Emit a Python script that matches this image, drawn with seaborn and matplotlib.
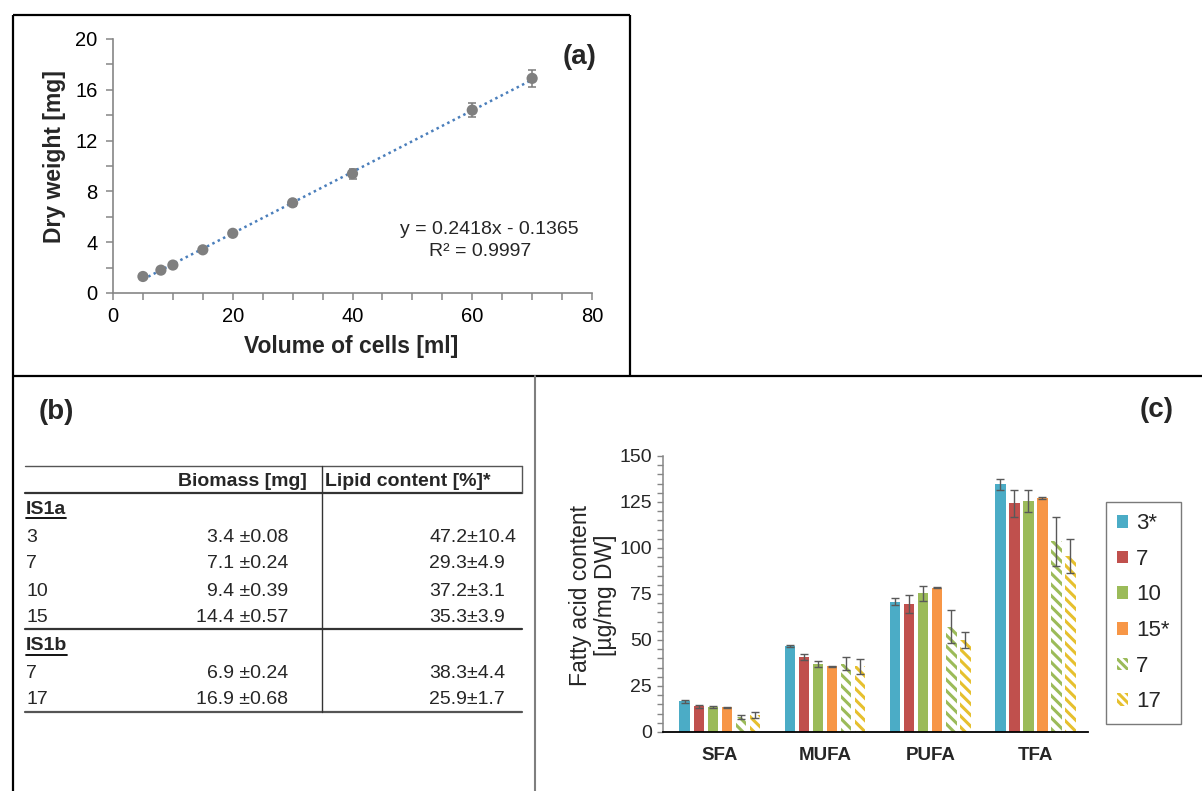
import numpy as np
import pandas as pd
import matplotlib
matplotlib.use("Agg")
import matplotlib.pyplot as plt
from matplotlib.patches import Patch
from matplotlib.ticker import MultipleLocator
import seaborn as sns

# ---------------- data: panel (a) ----------------
volume_ml = [5, 8, 10, 15, 20, 30, 40, 60, 70]
dry_weight_mg = [1.3, 1.8, 2.2, 3.4, 4.7, 7.1, 9.4, 14.4, 16.9]
dry_weight_sd = [0.08, 0.10, 0.10, 0.12, 0.15, 0.24, 0.39, 0.57, 0.68]
fit_slope = 0.2418
fit_intercept = -0.1365
fit_r2 = 0.9997

# ---------------- data: panel (b) table ----------------
table_header = ["Biomass [mg]", "Lipid content [%]*"]
is1a_labels = ["3", "7", "10", "15"]
is1a_biomass = ["3.4 \u00b10.08", "7.1 \u00b10.24", "9.4 \u00b10.39", "14.4 \u00b10.57"]
is1a_lipid = ["47.2\u00b110.4", "29.3\u00b14.9", "37.2\u00b13.1", "35.3\u00b13.9"]
is1b_labels = ["7", "17"]
is1b_biomass = ["6.9 \u00b10.24", "16.9 \u00b10.68"]
is1b_lipid = ["38.3\u00b14.4", "25.9\u00b11.7"]

# ---------------- data: panel (c) ----------------
fa_categories = ["SFA", "MUFA", "PUFA", "TFA"]
strain_keys = ["IS1a-3", "IS1a-7", "IS1a-10", "IS1a-15", "IS1b-7", "IS1b-17"]
strain_labels = ["3*", "7", "10", "15*", "7", "17"]
fa_3 = [16.6, 46.8, 70.8, 134.6]
fa_3_sd = [0.6, 0.5, 2.0, 3.0]
fa_7 = [13.9, 40.7, 69.4, 124.2]
fa_7_sd = [0.8, 1.6, 4.8, 7.4]
fa_10 = [13.6, 36.9, 75.4, 125.6]
fa_10_sd = [0.8, 1.8, 4.0, 6.0]
fa_15 = [13.4, 35.6, 78.4, 127.2]
fa_15_sd = [0.2, 0.3, 0.3, 0.3]
fa_b7 = [8.1, 37.2, 57.3, 103.7]
fa_b7_sd = [1.0, 3.6, 8.9, 13.3]
fa_b17 = [9.2, 35.6, 50.1, 95.8]
fa_b17_sd = [1.8, 4.0, 4.2, 9.3]

strain_colors = ["#4BACC6", "#C0504D", "#9BBB59", "#F79646", "#9BBB59", "#E6C02E"]
hatched = [False, False, False, False, True, True]

# ---------------- style ----------------
sns.set_style("white")
plt.rcParams["font.family"] = ["Liberation Sans", "DejaVu Sans"]
plt.rcParams["hatch.linewidth"] = 2.2

W, H = 1202, 791
fig = plt.figure(figsize=(W / 100, H / 100), dpi=100)
fig.patch.set_facecolor("white")

# background axes in pixel coordinates for frames and table
ax_bg = fig.add_axes([0, 0, 1, 1], zorder=0)
ax_bg.set_xlim(0, W)
ax_bg.set_ylim(H, 0)
ax_bg.axis("off")
ax_bg.patch.set_alpha(0)

# frame lines
kw = dict(color="black", lw=1.6, solid_capstyle="butt")
ax_bg.plot([13, 630], [15, 15], **kw)
ax_bg.plot([13, 13], [15, H], **kw)
ax_bg.plot([630, 630], [15, 375.5], **kw)
ax_bg.plot([13, W], [375.5, 375.5], **kw)
ax_bg.plot([535, 535], [375.5, H], color="#7f7f7f", lw=1.5)

# ---------------- panel (a) ----------------
ax_a = fig.add_axes([113 / W, 1 - 293 / H, 479 / W, 254 / H], zorder=2)
ax_a.patch.set_alpha(0)
fit_x = np.array([min(volume_ml), max(volume_ml)], dtype=float)
fit_y = fit_slope * fit_x + fit_intercept
sns.lineplot(x=fit_x, y=fit_y, ax=ax_a, color="#4A7EBB", lw=1.8,
             linestyle=(0, (1, 1.4)), zorder=2)
ax_a.errorbar(volume_ml, dry_weight_mg, yerr=dry_weight_sd, fmt="none",
              ecolor="#7a7a7a", elinewidth=1.1, capsize=3, capthick=1.1, zorder=3)
sns.scatterplot(x=volume_ml, y=dry_weight_mg, ax=ax_a, color="#7F7F7F",
                s=65, edgecolor="none", zorder=4)
ax_a.set_xlim(0, 80)
ax_a.set_ylim(0, 20)
ax_a.xaxis.set_major_locator(MultipleLocator(20))
ax_a.xaxis.set_minor_locator(MultipleLocator(5))
ax_a.yaxis.set_major_locator(MultipleLocator(4))
ax_a.yaxis.set_minor_locator(MultipleLocator(2))
for s in ["top", "right"]:
    ax_a.spines[s].set_visible(False)
for s in ["left", "bottom"]:
    ax_a.spines[s].set_color("#868686")
    ax_a.spines[s].set_linewidth(1.2)
ax_a.tick_params(which="both", direction="out", length=5, width=1.1,
                 color="#868686", labelsize=14.5, labelcolor="black")
ax_a.tick_params(axis="y", which="both", left=True, pad=6)
ax_a.tick_params(axis="x", which="both", bottom=True, pad=5)
ax_a.set_xlabel("Volume of cells [ml]", fontsize=16.5, fontweight="bold")
ax_a.set_ylabel("Dry weight [mg]", fontsize=16.5, fontweight="bold")
ax_a.xaxis.label.set_verticalalignment("center")
ax_a.yaxis.label.set_verticalalignment("center")
ax_a.xaxis.set_label_coords((351 - 113) / 479, (293 - 347) / 254)
ax_a.yaxis.set_label_coords((55 - 113) / 479, (293 - 157) / 254)

fig.text(489 / W, 1 - 230 / H, f"y = {fit_slope}x - {abs(fit_intercept)}",
         ha="center", va="center", fontsize=14)
fig.text(480 / W, 1 - 252 / H, f"R\u00b2 = {fit_r2}", ha="center", va="center", fontsize=14)
fig.text(580 / W, 1 - 57 / H, "(a)", ha="center", va="center", fontsize=20, fontweight="bold")

# ---------------- panel (b) table ----------------
fig.text(56 / W, 1 - 412 / H, "(b)", ha="center", va="center", fontsize=20, fontweight="bold")
tfs = 14
ax_bg.plot([25, 522], [466, 466], color="#555555", lw=1.0)
ax_bg.plot([25, 522], [493, 493], color="#333333", lw=1.6)
ax_bg.plot([25, 522], [629, 629], color="#333333", lw=1.6)
ax_bg.plot([25, 522], [712, 712], color="#555555", lw=1.6)
ax_bg.plot([322, 322], [466, 712], color="#333333", lw=1.0)
ax_bg.plot([522, 522], [466, 493], color="#555555", lw=1.0)
ax_bg.text(307, 482, table_header[0], ha="right", va="center", fontsize=tfs, fontweight="bold")
ax_bg.text(325, 482, table_header[1], ha="left", va="center", fontsize=tfs, fontweight="bold")

group_texts = []
t = ax_bg.text(26, 509, "IS1a", ha="left", va="center", fontsize=tfs, fontweight="bold")
group_texts.append((t, 509))
for lab, bm, lp, yy in zip(is1a_labels, is1a_biomass, is1a_lipid, [537, 564, 591, 618]):
    ax_bg.text(26, yy, lab, ha="left", va="center", fontsize=tfs)
    ax_bg.text(288, yy, bm, ha="right", va="center", fontsize=tfs)
    ax_bg.text(429, yy, lp, ha="left", va="center", fontsize=tfs)
t = ax_bg.text(26, 646, "IS1b", ha="left", va="center", fontsize=tfs, fontweight="bold")
group_texts.append((t, 646))
for lab, bm, lp, yy in zip(is1b_labels, is1b_biomass, is1b_lipid, [673, 700]):
    ax_bg.text(26, yy, lab, ha="left", va="center", fontsize=tfs)
    ax_bg.text(288, yy, bm, ha="right", va="center", fontsize=tfs)
    ax_bg.text(429, yy, lp, ha="left", va="center", fontsize=tfs)

fig.canvas.draw()
for t, yy in group_texts:
    bb = t.get_window_extent()
    ax_bg.plot([bb.x0, bb.x1], [yy + 9, yy + 9], color="black", lw=1.3)

# ---------------- panel (c) ----------------
values = [fa_3, fa_7, fa_10, fa_15, fa_b7, fa_b17]
sds = [fa_3_sd, fa_7_sd, fa_10_sd, fa_15_sd, fa_b7_sd, fa_b17_sd]
rows = []
for key, vals, sd in zip(strain_keys, values, sds):
    for cat, v, e in zip(fa_categories, vals, sd):
        rows.append({"category": cat, "strain": key, "value": v, "sd": e})
df = pd.DataFrame(rows)

ax_c = fig.add_axes([663 / W, 1 - 732 / H, 425 / W, 276 / H], zorder=2)
ax_c.patch.set_alpha(0)
sns.barplot(data=df, x="category", y="value", hue="strain", order=fa_categories,
            hue_order=strain_keys, palette=dict(zip(strain_keys, strain_colors)),
            errorbar=None, width=0.8, gap=0.25, saturation=1, linewidth=0,
            legend=False, ax=ax_c)

sd_lookup = {k: dict(zip(fa_categories, s)) for k, s in zip(strain_keys, sds)}
bar_containers = list(ax_c.containers)
for i, cont in enumerate(bar_containers):
    key = strain_keys[i]
    col = strain_colors[i]
    xs, ys, es = [], [], []
    for p in cont.patches:
        if hatched[i]:
            p.set_facecolor("white")
            p.set_edgecolor(col)
            p.set_hatch("\\" * 3)
            p.set_linewidth(0)
        cx = p.get_x() + p.get_width() / 2
        ci = int(round(cx))
        xs.append(cx)
        ys.append(p.get_height())
        es.append(sd_lookup[key][fa_categories[ci]])
    ax_c.errorbar(xs, ys, yerr=es, fmt="none", ecolor="#595959", elinewidth=1.0,
                  capsize=2.6, capthick=1.0, zorder=5)

ax_c.set_xlim(-0.54, 3.5)
ax_c.set_ylim(0, 150)
ax_c.yaxis.set_major_locator(MultipleLocator(25))
ax_c.yaxis.set_minor_locator(MultipleLocator(5))
for s in ["top", "right"]:
    ax_c.spines[s].set_visible(False)
ax_c.spines["left"].set_color("#868686")
ax_c.spines["left"].set_linewidth(1.1)
ax_c.spines["bottom"].set_color("black")
ax_c.spines["bottom"].set_linewidth(1.3)
ax_c.tick_params(axis="y", which="both", left=True, direction="out", length=4,
                 width=1, color="#868686", labelsize=14, pad=4)
ax_c.tick_params(axis="x", which="both", bottom=False, length=0, labelsize=13.5, pad=11)
for lab in ax_c.get_xticklabels():
    lab.set_fontweight("bold")
ax_c.set_xlabel("")
ax_c.set_ylabel("Fatty acid content\n[\u00b5g/mg DW]", fontsize=16.5, linespacing=1.1)
ax_c.yaxis.label.set_verticalalignment("center")
ax_c.yaxis.set_label_coords((593 - 663) / 425, (732 - 595) / 276)

fig.text(1157 / W, 1 - 410 / H, "(c)", ha="center", va="center", fontsize=20, fontweight="bold")

handles = []
for col, hat in zip(strain_colors, hatched):
    if hat:
        handles.append(Patch(facecolor="white", edgecolor=col, hatch="\\" * 4, linewidth=0))
    else:
        handles.append(Patch(facecolor=col, edgecolor="none"))
leg = fig.legend(handles, strain_labels, loc="upper left",
                 bbox_to_anchor=(1106 / W, 1 - 502 / H), bbox_transform=fig.transFigure,
                 frameon=True, fancybox=False, fontsize=16, handlelength=0.5,
                 handleheight=0.5, handletextpad=0.35, labelspacing=0.66,
                 borderpad=0.5, borderaxespad=0)
leg.get_frame().set_edgecolor("#595959")
leg.get_frame().set_linewidth(1.0)

fig.savefig("out.png", dpi=100)
